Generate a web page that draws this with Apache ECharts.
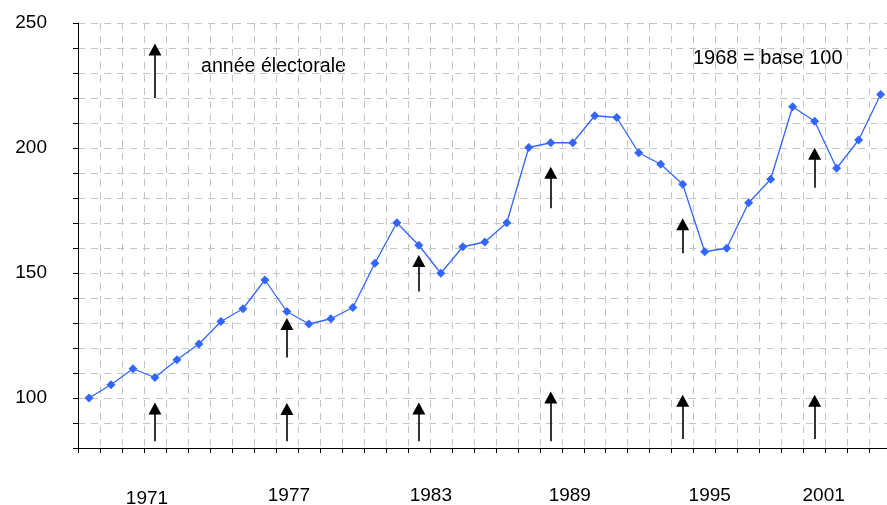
<!DOCTYPE html>
<html>
<head>
<meta charset="utf-8">
<script src="https://cdn.jsdelivr.net/npm/echarts@6/dist/echarts.min.js"></script>
<style>
  html, body { margin: 0; padding: 0; background: #fff; }
  #chart { width: 887px; height: 505px; }
</style>
</head>
<body>
<div id="chart"></div>
<script>
// index, 1968 = base 100
const years = [];
for (let y = 1968; y <= 2004; y++) years.push(String(y));
const values = [100, 105.3, 111.7, 108.2, 115.3, 121.6, 130.6, 135.7, 147.2, 134.6,
  129.6, 131.7, 136.2, 153.9, 170.1, 161.1, 149.9, 160.5, 162.4, 170.1,
  200.2, 202.1, 202.1, 212.9, 212.2, 198.1, 193.5, 185.5, 158.5, 159.9,
  178.1, 187.5, 216.5, 210.7, 191.9, 203.2, 221.4];

// x-axis labels shown
const labelYears = ['1971', '1977', '1983', '1989', '1995', '2001'];

// election-year arrows (tail value -> head value)
const electionYears = ['1971', '1977', '1983', '1989', '1995', '2001'];
const lowFrom = [82.7, 82.7, 82.7, 82.7, 83.6, 83.6];
const lowTo = [95.8, 95.6, 95.8, 100.2, 98.9, 98.9];
const highYears = ['1977', '1983', '1989', '1995', '2001'];
const highFrom = [116.2, 142.6, 175.9, 157.9, 184.1];
const highTo = [129.6, 154.8, 190.1, 169.5, 197.7];
// legend arrow
const legendArrow = { x: 3.26, from: 220, to: 239.4 };

// small horizontal shifts of the year labels (px)
const labelShift = { '1971': -8, '1977': 2, '1983': 12, '1989': 19, '1995': 27, '2001': 9 };

const FONT = '"Liberation Sans", Arial, sans-serif';

const arrowData = [];
electionYears.forEach(function (y, i) {
  arrowData.push([{ coord: [y, lowFrom[i]] }, { coord: [y, lowTo[i]] }]);
});
highYears.forEach(function (y, i) {
  arrowData.push([{ coord: [y, highFrom[i]] }, { coord: [y, highTo[i]] }]);
});
arrowData.push([{ coord: [legendArrow.x, legendArrow.from] }, { coord: [legendArrow.x, legendArrow.to] }]);

const rich = {};
labelYears.forEach(function (y) {
  const s = labelShift[y] || 0;
  rich['y' + y] = {
    fontSize: 19, fontFamily: FONT, color: '#000',
    padding: [y === '1971' ? 3 : 0, s < 0 ? -2 * s : 0, 0, s > 0 ? 2 * s : 0]
  };
});

const option = {
  animation: false,
  backgroundColor: '#fff',
  grid: { left: 78, top: 23, width: 813.6, bottom: 57, containLabel: false, outerBoundsMode: 'none' },
  xAxis: {
    type: 'category',
    data: years,
    boundaryGap: true,
    axisLine: { lineStyle: { color: '#000', width: 1 } },
    axisTick: { show: true, interval: 0, length: 5, lineStyle: { color: '#000' } },
    axisLabel: {
      interval: function (i, v) { return labelYears.indexOf(v) >= 0; },
      margin: 38,
      formatter: function (v) { return '{y' + v + '|' + v + '}'; },
      rich: rich
    },
    splitLine: {
      show: true, interval: 0,
      lineStyle: { color: '#c4c4c4', type: [7, 6], width: 1 }
    }
  },
  yAxis: {
    type: 'value',
    min: 80,
    max: 250,
    interval: 10,
    axisLine: { show: true, lineStyle: { color: '#000', width: 1 } },
    axisTick: { show: true, length: 5, lineStyle: { color: '#000' } },
    axisLabel: {
      margin: 31,
      color: '#000',
      fontSize: 19,
      fontFamily: FONT,
      formatter: function (v) { return v % 50 === 0 ? String(v) : ''; }
    },
    splitLine: { show: true, lineStyle: { color: '#c4c4c4', type: [7, 6], width: 1 } }
  },
  graphic: [
    {
      type: 'text', left: 201, top: 57,
      style: { text: 'année électorale', fill: '#000', font: '19.6px ' + FONT }
    },
    {
      type: 'text', left: 693, top: 48,
      style: { text: '1968 = base 100', fill: '#000', font: '20px ' + FONT }
    }
  ],
  series: [
    {
      type: 'line',
      data: values,
      symbol: 'diamond',
      symbolSize: 9,
      itemStyle: { color: '#3366ff' },
      lineStyle: { color: '#3366ff', width: 1.3 },
      markLine: {
        silent: true,
        symbol: ['none', 'triangle'],
        symbolSize: [13, 12],
        label: { show: false },
        emphasis: { disabled: true },
        lineStyle: { color: '#000', width: 1.6, type: 'solid' },
        data: arrowData
      }
    }
  ]
};

const chart = echarts.init(document.getElementById('chart'));
chart.setOption(option);
</script>
</body>
</html>
